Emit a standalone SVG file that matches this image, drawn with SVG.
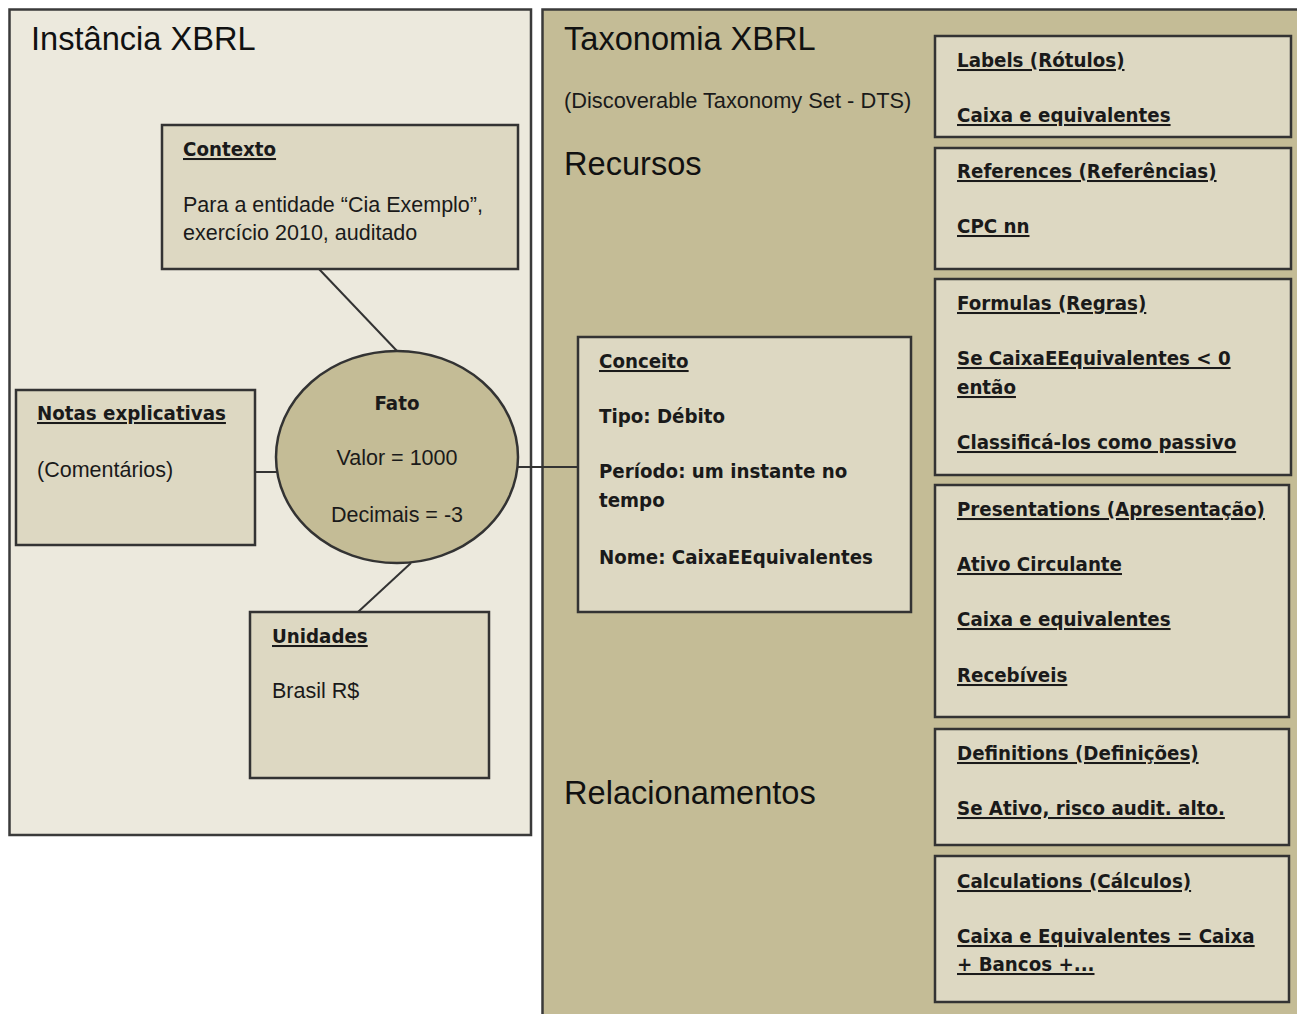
<svg xmlns="http://www.w3.org/2000/svg" width="1297" height="1014" viewBox="0 0 1297 1014">
<style>
.panel{stroke:#3a3a3a;stroke-width:2.5}
.box{fill:#DDD8C2;stroke:#333;stroke-width:2.5}
.conn{stroke:#333;stroke-width:2;fill:none}
.reg{font-family:"Liberation Sans",Arial,sans-serif;font-size:21.5px;fill:#1a1a1a}
.dts{font-size:21.8px}
.big{font-family:"Liberation Sans",Arial,sans-serif;font-size:32.6px;fill:#111}
.b{font-family:"DejaVu Sans Condensed","DejaVu Sans",sans-serif;font-stretch:condensed;font-weight:bold;font-size:20.3px;fill:#1a1a1a}
.u{text-decoration:underline}
</style>
<rect x="0" y="0" width="1297" height="1014" fill="#fff"/>
<g id="instancia">
<rect class="panel" x="9.5" y="9.5" width="521.5" height="825.5" fill="#ECE9DD"/>
<text class="big" x="31" y="50">Instância XBRL</text>
</g>
<g id="taxonomia">
<rect class="panel" x="542.5" y="9.5" width="800" height="1100" fill="#C4BC96"/>
<text class="big" x="564" y="50">Taxonomia XBRL</text>
<text class="reg dts" x="564" y="108">(Discoverable Taxonomy Set - DTS)</text>
<text class="big" x="564" y="175">Recursos</text>
<text class="big" x="564" y="804">Relacionamentos</text>
</g>
<g id="connectors">
<line class="conn" x1="319" y1="269" x2="397" y2="351"/>
<line class="conn" x1="255" y1="472" x2="277" y2="472"/>
<line class="conn" x1="411" y1="563" x2="358" y2="612"/>
<line class="conn" x1="518" y1="467" x2="578" y2="467"/>
</g>
<g id="contexto">
<rect class="box" x="162" y="125" width="356" height="144"/>
<text class="b u" x="183" y="156">Contexto</text>
<text class="reg" x="183" y="212">Para a entidade “Cia Exemplo”,</text>
<text class="reg" x="183" y="240">exercício 2010, auditado</text>
</g>
<g id="notas">
<rect class="box" x="16" y="390" width="239" height="155"/>
<text class="b u" x="37" y="420">Notas explicativas</text>
<text class="reg" x="37" y="477">(Comentários)</text>
</g>
<g id="fato">
<ellipse cx="397" cy="457" rx="121" ry="106" fill="#C4BC96" stroke="#333" stroke-width="2.5"/>
<text class="b" x="397" y="410" text-anchor="middle">Fato</text>
<text class="reg" x="397" y="465" text-anchor="middle">Valor = 1000</text>
<text class="reg" x="397" y="522" text-anchor="middle">Decimais = -3</text>
</g>
<g id="unidades">
<rect class="box" x="250" y="612" width="239" height="166"/>
<text class="b u" x="272" y="643">Unidades</text>
<text class="reg" x="272" y="698">Brasil R$</text>
</g>
<g id="conceito">
<rect class="box" x="578" y="337" width="333" height="275"/>
<text class="b u" x="599" y="368">Conceito</text>
<text class="b" x="599" y="423">Tipo: Débito</text>
<text class="b" x="599" y="478">Período: um instante no</text>
<text class="b" x="599" y="507">tempo</text>
<text class="b" x="599" y="564">Nome: CaixaEEquivalentes</text>
</g>
<g id="labels">
<rect class="box" x="935" y="36" width="356" height="101"/>
<text class="b u" x="957" y="67">Labels (Rótulos)</text>
<text class="b u" x="957" y="122">Caixa e equivalentes</text>
</g>
<g id="references">
<rect class="box" x="935" y="148" width="356" height="121"/>
<text class="b u" x="957" y="178">References (Referências)</text>
<text class="b u" x="957" y="233">CPC nn</text>
</g>
<g id="formulas">
<rect class="box" x="935" y="279" width="356" height="196"/>
<text class="b u" x="957" y="310">Formulas (Regras)</text>
<text class="b u" x="957" y="365">Se CaixaEEquivalentes &lt; 0</text>
<text class="b u" x="957" y="394">então</text>
<text class="b u" x="957" y="449">Classificá-los como passivo</text>
</g>
<g id="presentations">
<rect class="box" x="935" y="485" width="354" height="232"/>
<text class="b u" x="957" y="516">Presentations (Apresentação)</text>
<text class="b u" x="957" y="571">Ativo Circulante</text>
<text class="b u" x="957" y="626">Caixa e equivalentes</text>
<text class="b u" x="957" y="682">Recebíveis</text>
</g>
<g id="definitions">
<rect class="box" x="935" y="729" width="354" height="116"/>
<text class="b u" x="957" y="760">Definitions (Definições)</text>
<text class="b u" x="957" y="815">Se Ativo, risco audit. alto.</text>
</g>
<g id="calculations">
<rect class="box" x="935" y="856" width="354" height="146"/>
<text class="b u" x="957" y="888">Calculations (Cálculos)</text>
<text class="b u" x="957" y="943">Caixa e Equivalentes = Caixa</text>
<text class="b u" x="957" y="971">+ Bancos +...</text>
</g>
</svg>
